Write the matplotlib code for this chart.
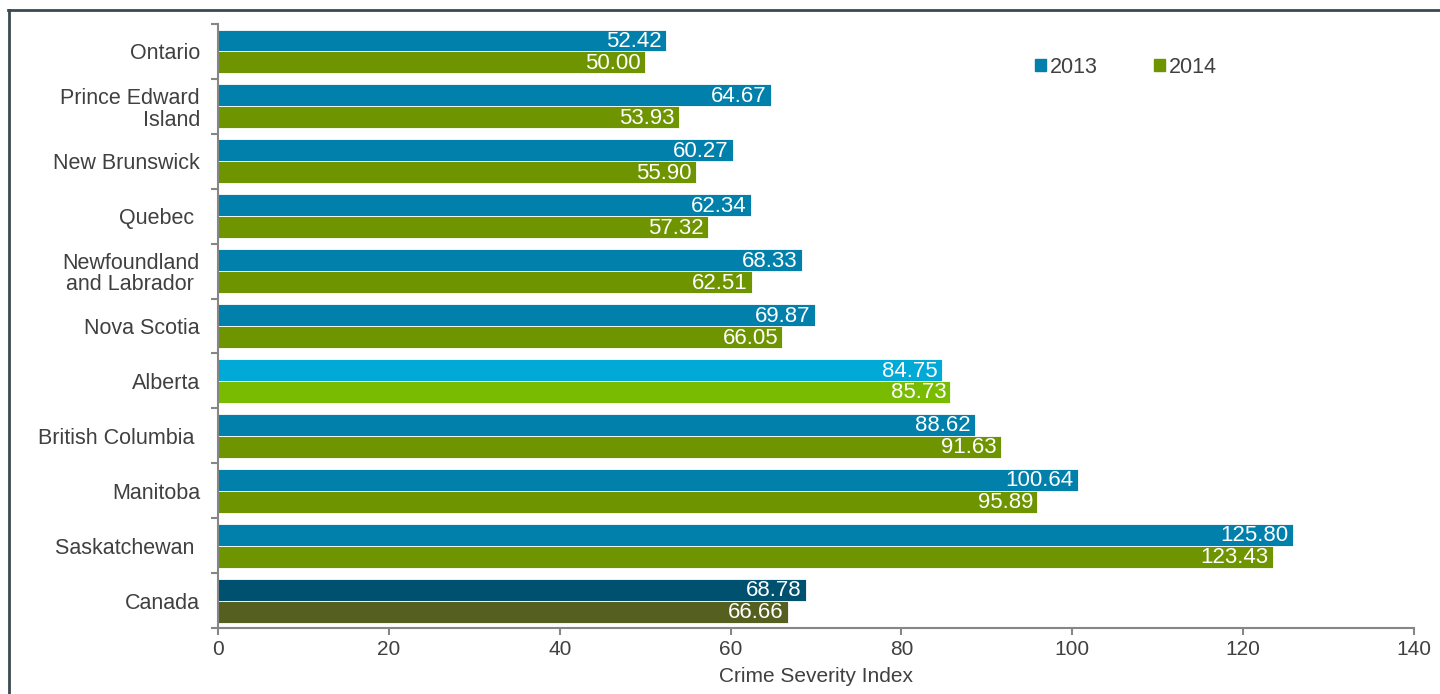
import numpy as np
import matplotlib.pyplot as plt
from matplotlib.lines import Line2D
from matplotlib.patches import Patch

plt.rcParams["font.family"] = ["Liberation Sans", "DejaVu Sans"]

# Data
provinces = ["Ontario", "Prince Edward\nIsland", "New Brunswick", "Quebec ",
             "Newfoundland\nand Labrador ", "Nova Scotia", "Alberta",
             "British Columbia ", "Manitoba", "Saskatchewan ", "Canada"]
csi_2013 = [52.42, 64.67, 60.27, 62.34, 68.33, 69.87, 84.75, 88.62, 100.64, 125.80, 68.78]
csi_2014 = [50.00, 53.93, 55.90, 57.32, 62.51, 66.05, 85.73, 91.63, 95.89, 123.43, 66.66]
years = ["2013", "2014"]

# Colours (Alberta and Canada highlighted)
c2013 = ["#0080AA"] * len(provinces)
c2014 = ["#6E9400"] * len(provinces)
c2013[6], c2014[6] = "#00A9D6", "#78BB00"
c2013[10], c2014[10] = "#005070", "#556020"

text_col = "#404040"
axis_col = "#868686"

fig = plt.figure(figsize=(14.4, 6.94), dpi=100)
ax = fig.add_axes([0.1514, 0.0951, 0.8306, 0.8703])

y = np.arange(len(provinces))
h = 0.4
ax.barh(y - h / 2, csi_2013, height=h, color=c2013, edgecolor="white", linewidth=0.6)
ax.barh(y + h / 2, csi_2014, height=h, color=c2014, edgecolor="white", linewidth=0.6)

for yi, v in zip(y, csi_2013):
    ax.text(v - 0.5, yi - h / 2 + 0.02, f"{v:.2f}", ha="right", va="center",
            color="white", fontsize=16)
for yi, v in zip(y, csi_2014):
    ax.text(v - 0.5, yi + h / 2 + 0.02, f"{v:.2f}", ha="right", va="center",
            color="white", fontsize=16)

ax.set_xlim(0, 140)
ax.set_ylim(len(provinces) - 0.5, -0.5)
ax.set_xticks(np.arange(0, 141, 20))
ax.set_yticks(y)
ax.set_yticklabels(provinces, fontsize=15.5, color=text_col, linespacing=1.05)
ax.set_yticks(np.arange(-0.5, len(provinces), 1), minor=True)
ax.tick_params(axis="y", which="major", length=0, pad=13)
ax.tick_params(axis="y", which="minor", length=5, width=1.5, color=axis_col)
ax.tick_params(axis="x", length=5, width=1.5, color=axis_col,
               labelsize=15, labelcolor=text_col)
ax.set_xlabel("Crime Severity Index", fontsize=15, color=text_col, labelpad=6)

for side in ["top", "right"]:
    ax.spines[side].set_visible(False)
for side in ["left", "bottom"]:
    ax.spines[side].set_color(axis_col)
    ax.spines[side].set_linewidth(1.5)

handles = [Patch(color="#0080AA"), Patch(color="#6E9400")]
ax.legend(handles, years, ncol=2, frameon=False, loc="upper left",
          bbox_to_anchor=(0.667, 0.978), fontsize=15.5, handlelength=0.5,
          handleheight=0.5, handletextpad=0.2, columnspacing=2.6,
          labelcolor=text_col)

# outer frame
fig.add_artist(Line2D([8 / 1440, 1.0], [1 - 9.5 / 694] * 2, color="#3A4A52", linewidth=2))
fig.add_artist(Line2D([8.5 / 1440] * 2, [0, 1 - 9.5 / 694], color="#3A4A52", linewidth=2))

fig.savefig("out.png", dpi=100)
